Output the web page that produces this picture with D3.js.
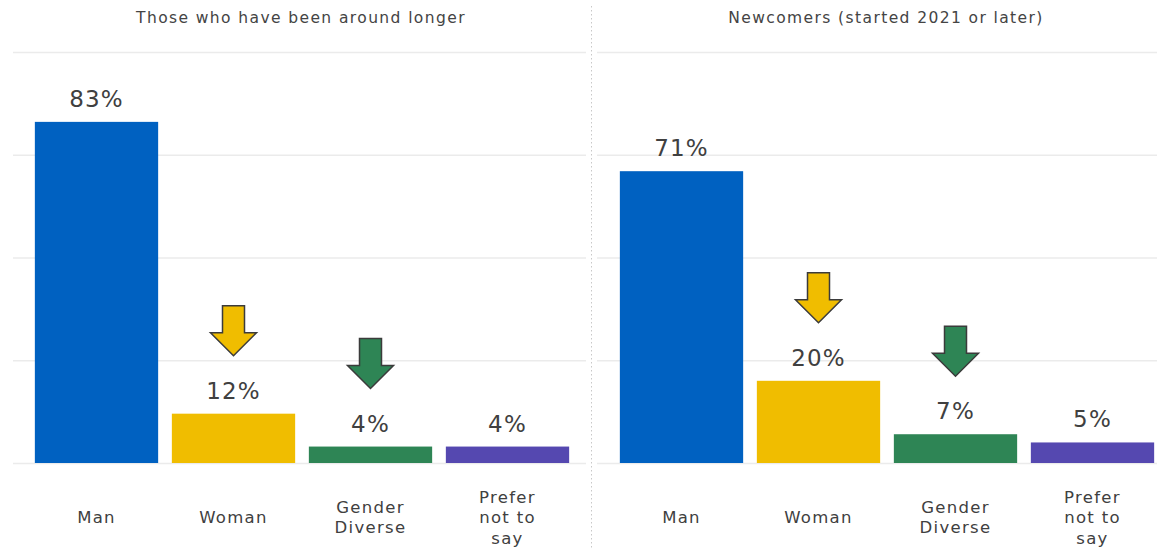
<!DOCTYPE html>
<html>
<head>
<meta charset="utf-8">
<script src="https://cdn.jsdelivr.net/npm/d3@7"></script>
<style>
body { margin: 0; background: #fff; }
svg { display: block; font-family: 'DejaVu Sans', sans-serif; }
</style>
</head>
<body>
<script>
var categories = ['Man', 'Woman', 'Gender Diverse', 'Prefer not to say'];
var categoryLines = [['Man'], ['Woman'], ['Gender', 'Diverse'], ['Prefer', 'not to', 'say']];
var olderValues = [83, 12, 4, 4];
var newcomerValues = [71, 20, 7, 5];
var panelTitles = ['Those who have been around longer', 'Newcomers (started 2021 or later)'];
var gridTicks = [0, 25, 50, 75, 100];
var arrowCats = ['Woman', 'Gender Diverse'];

var colors = ['#0061c1', '#f0bd00', '#2e8555', '#5548b0'];
var arrowColors = {'Woman': '#f0bd00', 'Gender Diverse': '#2e8555'};

var W = 1157, H = 549;
var svg = d3.select('body').append('svg').attr('width', W).attr('height', H);

var y = d3.scaleLinear().domain([0, 100]).range([463, 52]);

var panels = [
	{title: panelTitles[0], values: olderValues, x0: 28, x1: 576, g0: 13, g1: 586, tx: 301},
	{title: panelTitles[1], values: newcomerValues, x0: 613, x1: 1161, g0: 597, g1: 1157, tx: 886}
];

// dotted divider
svg.append('line')
	.attr('x1', 591.5).attr('x2', 591.5)
	.attr('y1', 6).attr('y2', 549)
	.style('stroke', '#c8c8c8')
	.style('stroke-width', 1)
	.style('stroke-dasharray', '1.5,2.5');

var drawArrow = function(cx, tip){
	// arrow 50px tall, shaft 22 wide, head 46 wide
	var top = tip - 50, neck = tip - 23;
	var pts = [
		[cx - 11, top], [cx + 11, top], [cx + 11, neck], [cx + 23, neck],
		[cx, tip], [cx - 23, neck], [cx - 11, neck]
	];
	return pts.map(function(p){ return p.join(','); }).join(' ');
};

panels.forEach(function(p){
	var g = svg.append('g');
	var x = d3.scaleBand().domain(categories).range([p.x0, p.x1]).paddingInner(0.1).paddingOuter(0.05);

	g.selectAll('.grid').data(gridTicks).enter().append('line')
		.attr('x1', p.g0).attr('x2', p.g1)
		.attr('y1', function(d){ return y(d) + 0.5; })
		.attr('y2', function(d){ return y(d) + 0.5; })
		.style('stroke', '#ebebeb')
		.style('stroke-width', 1.5);

	g.append('text')
		.attr('x', p.tx).attr('y', 23)
		.attr('text-anchor', 'middle')
		.style('font-size', '15.5px')
		.style('letter-spacing', '1.4px')
		.style('fill', '#444')
		.text(p.title);

	g.selectAll('.val').data(p.values).enter().append('text')
		.attr('x', function(d, i){ return x(categories[i]) + x.bandwidth() / 2; })
		.attr('y', function(d){ return y(d) - 15; })
		.attr('text-anchor', 'middle')
		.style('font-size', '23px')
		.style('letter-spacing', '1.2px')
		.style('fill', '#404040')
		.text(function(d){ return d + '%'; });

	g.selectAll('.bar').data(p.values).enter().append('rect')
		.attr('x', function(d, i){ return x(categories[i]); })
		.attr('y', function(d){ return y(d); })
		.attr('width', x.bandwidth())
		.attr('height', function(d){ return y(0) - y(d); })
		.style('fill', function(d, i){ return colors[i]; });

	categoryLines.forEach(function(lines, i){
		var cx = x(categories[i]) + x.bandwidth() / 2;
		var t = g.append('text')
			.attr('text-anchor', 'middle')
			.style('font-size', '16.5px')
			.style('letter-spacing', '1.3px')
			.style('fill', '#404040');
		lines.forEach(function(l, j){
			t.append('tspan')
				.attr('x', cx)
				.attr('y', 523 + (j - (lines.length - 1) / 2) * 20.5)
				.text(l);
		});
	});

	arrowCats.forEach(function(c){
		var i = categories.indexOf(c);
		var cx = x(c) + x.bandwidth() / 2;
		g.append('polygon')
			.attr('points', drawArrow(cx, y(p.values[i]) - 58))
			.style('fill', arrowColors[c])
			.style('stroke', '#3b3b3b')
			.style('stroke-width', 1.5)
			.style('stroke-linejoin', 'miter');
	});
});
</script>
</body>
</html>
